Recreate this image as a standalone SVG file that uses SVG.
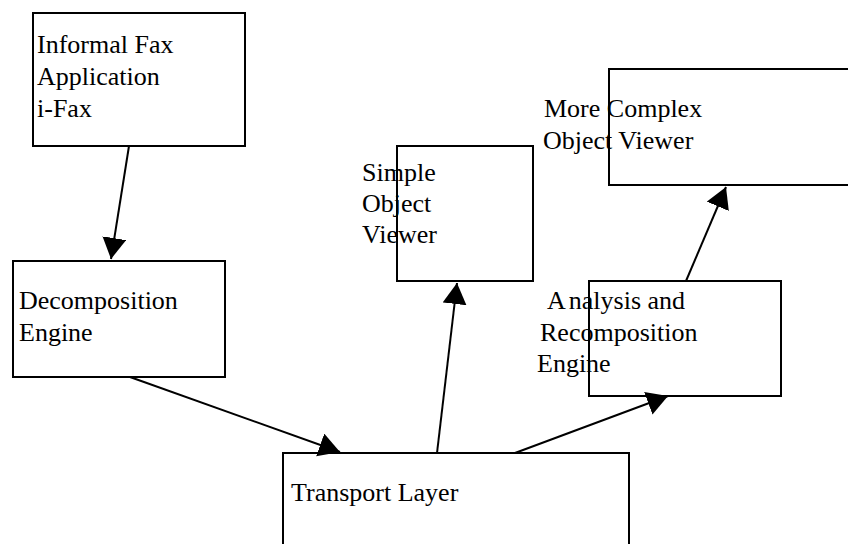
<svg xmlns="http://www.w3.org/2000/svg" width="848" height="544" viewBox="0 0 848 544">
<style>
.box{fill:#fff;stroke:#000;stroke-width:2}
.lbl{font-family:"Liberation Serif","Times New Roman",serif;font-size:26px;fill:#000}
.edge{stroke:#000;stroke-width:2;fill:none}
</style>
<defs>
<marker id="ah" markerUnits="userSpaceOnUse" markerWidth="26" markerHeight="26" refX="21" refY="12" orient="auto" viewBox="0 0 26 26">
<path d="M0,0 L21,12 L0,24 z" fill="#000"/>
</marker>
</defs>
<rect width="848" height="544" fill="#fff"/>
<g id="fax">
<rect class="box" x="33" y="13" width="212" height="133"/>
<text class="lbl" x="37" y="53">Informal Fax</text>
<text class="lbl" x="37" y="84.5">Application</text>
<text class="lbl" x="37" y="116.5">i-Fax</text>
</g>
<g id="decomp">
<rect class="box" x="13" y="261" width="212" height="116"/>
<text class="lbl" x="19" y="309">Decomposition</text>
<text class="lbl" x="19" y="341">Engine</text>
</g>
<g id="simple">
<rect class="box" x="397" y="146" width="136" height="135"/>
<text class="lbl" x="362" y="181">Simple</text>
<text class="lbl" x="362" y="212">Object</text>
<text class="lbl" x="362" y="243">Viewer</text>
</g>
<g id="complex">
<rect class="box" x="609" y="69" width="260" height="116"/>
<text class="lbl" x="544" y="117">More Complex</text>
<text class="lbl" x="543" y="149">Object Viewer</text>
</g>
<g id="analysis">
<rect class="box" x="589" y="281" width="192" height="115"/>
<text class="lbl" x="547" y="309">A<tspan dx="3">nalysis and</tspan></text>
<text class="lbl" x="540" y="341">Recomposition</text>
<text class="lbl" x="537" y="372">Engine</text>
</g>
<g id="transport">
<rect class="box" x="283" y="453" width="346" height="110"/>
<text class="lbl" x="291" y="501">Transport Layer</text>
</g>
<g id="connectors">
<line class="edge" x1="129" y1="146" x2="111" y2="259" marker-end="url(#ah)"/>
<line class="edge" x1="130" y1="377" x2="340" y2="452" marker-end="url(#ah)"/>
<line class="edge" x1="437" y1="453" x2="457" y2="283" marker-end="url(#ah)"/>
<line class="edge" x1="515" y1="453" x2="668" y2="396" marker-end="url(#ah)"/>
<line class="edge" x1="686" y1="281" x2="726" y2="187" marker-end="url(#ah)"/>
</g>
</svg>
